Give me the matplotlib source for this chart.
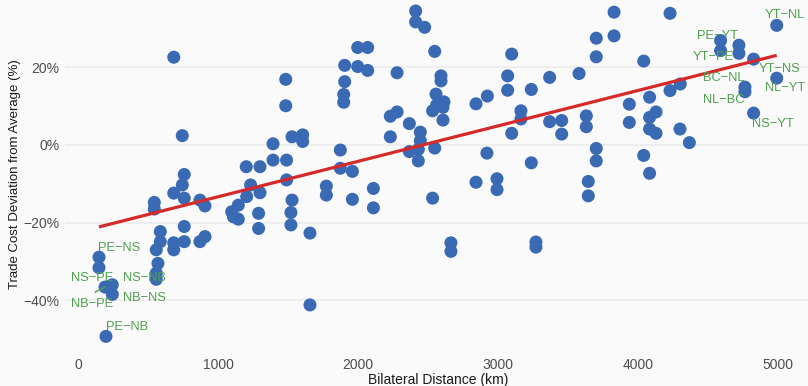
import numpy as np
import pandas as pd
import matplotlib
matplotlib.use("Agg")
import matplotlib.pyplot as plt
from matplotlib.ticker import FuncFormatter

plt.rcParams["font.family"] = ["Liberation Sans", "DejaVu Sans"]

# Bilateral distance between province/territory pairs (km)
distance_km = [
    150, 150, 193, 245, 245, 200,
    545, 545, 588, 588, 559, 571, 559, 559,
    684, 684, 684, 684,
    745, 745, 759, 759, 759, 759,
    871, 907, 871, 907,
    1098, 1110, 1145, 1145,
    1202, 1205, 1233, 1300, 1300, 1290, 1290,
    1393, 1393, 1484, 1484, 1490, 1490,
    1529, 1529, 1521, 1521,
    1605, 1605, 1657, 1657,
    1774, 1774, 1874, 1874, 1898, 1898, 1905, 1905,
    1960, 1960, 1998, 1998, 2069, 2069, 2110, 2110,
    2231, 2231, 2279, 2279, 2367, 2367,
    2412, 2412, 2476, 2431, 2431, 2445, 2445,
    2548, 2548, 2533, 2533, 2557, 2562, 2593, 2593, 2607, 2614, 2607,
    2664, 2664,
    2843, 2843, 2924, 2921, 2993, 2993,
    3069, 3069, 3098, 3098, 3164, 3164, 3238, 3238, 3271, 3271,
    3369, 3369, 3455, 3455, 3579, 3631, 3631, 3645, 3645,
    3702, 3702, 3702, 3702, 3829, 3829, 3938, 3938,
    4041, 4041, 4083, 4083, 4083, 4083, 4129, 4129,
    4229, 4229, 4302, 4300, 4367,
    4590, 4590, 4721, 4721, 4826, 4764, 4764, 4826, 4991, 4991,
]

# Trade cost deviation from the average (%)
deviation_pct = [
    -28.9, -31.6, -36.6, -36.0, -38.5, -49.3,
    -14.8, -16.5, -22.3, -24.9, -27.0, -30.5, -33.0, -34.6,
    22.6, -12.4, -25.2, -27.0,
    2.4, -10.3, -7.6, -13.7, -21.0, -24.9,
    -14.2, -15.7, -24.9, -23.6,
    -17.2, -18.5, -15.5, -19.1,
    -5.6, -13.3, -10.3, -12.3, -5.6, -17.6, -21.5,
    0.3, -3.9, 16.9, 10.1, -3.9, -9.0,
    2.1, -14.2, -17.4, -20.6,
    2.6, 0.9, -22.7, -41.2,
    -10.6, -12.9, -1.3, -6.0, 13.0, 11.0, 20.5, 16.3,
    -6.8, -14.0, 25.1, 20.2, 25.1, 19.2, -11.2, -16.2,
    7.4, 2.1, 18.6, 8.5, 5.5, -1.7,
    34.5, 31.7, 30.3, -1.1, -4.1, 3.3, 1.1,
    24.1, -0.8, 8.8, -13.7, 13.1, 10.3, 17.8, 16.5, 9.7, 11.1, 6.4,
    -25.2, -27.4,
    10.6, -9.6, 12.6, -2.1, -8.7, -11.5,
    17.8, 14.1, 23.4, 3.0, 8.8, 6.7, 14.3, -4.6, -25.0, -26.3,
    17.4, 6.0, 6.3, 2.8, 18.4, 7.5, 4.7, -9.4, -13.1,
    27.5, 22.7, -0.9, -4.1, 34.2, 28.1, 10.5, 5.8,
    21.6, -2.7, 12.3, 7.1, 4.1, -7.3, 8.5, 3.0,
    33.9, 14.0, 15.7, 4.1, 0.6,
    26.9, 24.3, 25.7, 23.6, 22.1, 14.9, 13.7, 8.2, 30.8, 17.2,
]

# Labelled pairs: the point each label belongs to and where its text sits
pair_names = ["PE−NS", "NS−PE", "NB−PE", "NS−NB", "NB−NS", "PE−NB",
              "PE−YT", "YT−PE", "YT−NS", "BC−NL", "NL−BC", "NS−YT", "YT−NL", "NL−YT"]
pair_x = [150, 150, 193, 245, 245, 200,
          4590, 4590, 4826, 4764, 4764, 4826, 4991, 4991]
pair_y = [-28.9, -31.6, -36.6, -36.0, -38.5, -49.3,
          26.9, 24.3, 22.1, 14.9, 13.7, 8.2, 30.8, 17.2]
text_x = [295, 98, 98, 471, 471, 348,
          4571, 4536, 5014, 4614, 4614, 4964, 5050, 5050]
text_y = [-26.6, -34.2, -40.9, -34.3, -39.5, -46.9,
          28.1, 22.7, 19.6, 17.3, 11.6, 5.4, 33.5, 14.7]

df = pd.DataFrame({"distance": distance_km, "deviation": deviation_pct})

bg = "#FAFAFA"
fig = plt.figure(figsize=(8.08, 3.86), dpi=100, facecolor=bg)

# axis limits and panel placement (figure is 808 x 386 px)
x_lo, x_hi = -95, 5243
y_lo, y_hi = -53.5, 38.7
ax = fig.add_axes([64.7 / 808, (386 - 352.7) / 386, (812 - 64.7) / 808, (352.7 + 5.3) / 386])
ax.set_facecolor(bg)
ax.set_xlim(x_lo, x_hi)
ax.set_ylim(y_lo, y_hi)

# horizontal grid only
ax.set_yticks([-40, -20, 0, 20])
ax.set_xticks([0, 1000, 2000, 3000, 4000, 5000])
ax.yaxis.grid(True, color="#EBEBEB", linewidth=1.1)
ax.xaxis.grid(False)
ax.set_axisbelow(True)
for s in ax.spines.values():
    s.set_visible(False)
ax.tick_params(length=0, labelsize=10, labelcolor="#4D4D4D", pad=4)
ax.yaxis.set_major_formatter(FuncFormatter(lambda v, p: f"{int(v)}%".replace("-", "\u2212")))

ax.scatter(df["distance"], df["deviation"], s=88, color="#3A6AB4", edgecolors="none", zorder=3)

# least-squares trend line
slope, intercept = np.polyfit(df["distance"], df["deviation"], 1)
xs = np.array([df["distance"].min(), df["distance"].max()])
ax.plot(xs, intercept + slope * xs, color="#D42A2A", linewidth=2.3, zorder=4, solid_capstyle="butt")

green = "#4FA04F"
for name, px, py, tx, ty in zip(pair_names, pair_x, pair_y, text_x, text_y):
    ax.text(tx, ty, name, color=green, fontsize=9.3, ha="center", va="center", zorder=5)
    if name == "NB−PE":
        ax.plot([tx + 25, px], [ty + 3.0, py], color=green, linewidth=1.0, zorder=5)

ax.set_xlabel("Bilateral Distance (km)", fontsize=10, color="#1A1A1A", labelpad=0.5)
ax.set_ylabel("Trade Cost Deviation from Average (%)", fontsize=9.5, color="#1A1A1A", labelpad=1.5)

fig.savefig("out.png", dpi=100, facecolor=bg)
